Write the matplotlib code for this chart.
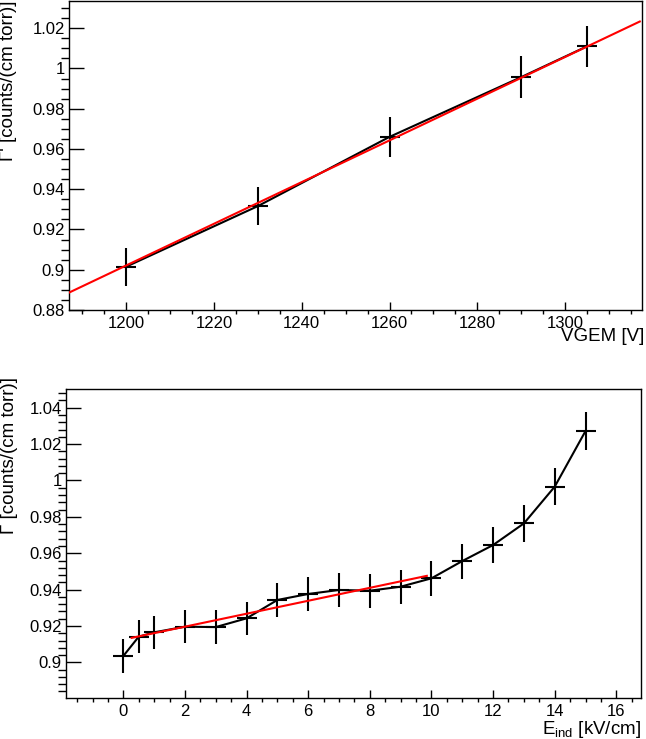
import matplotlib
matplotlib.use("Agg")
import matplotlib.pyplot as plt
import numpy as np
from matplotlib.ticker import MultipleLocator, FuncFormatter

plt.rcParams["font.family"] = ["Liberation Sans", "DejaVu Sans"]
plt.rcParams["mathtext.fontset"] = "custom"
plt.rcParams["mathtext.rm"] = "Liberation Sans"
plt.rcParams["mathtext.it"] = "Liberation Sans:italic"

# top panel: gain vs GEM voltage
vgem = [1200, 1230, 1260, 1290, 1305]
gamma_v = [0.9015, 0.9316, 0.9660, 0.9957, 1.0110]
gamma_v_err = [0.0095, 0.0094, 0.0099, 0.0104, 0.0103]
fit_v = [-0.3411, 0.001036]  # intercept, slope
fit_v_range = [1187, 1317]

# bottom panel: gain vs induction field
e_ind = [0, 0.5, 1, 2, 3, 4, 5, 6, 7, 8, 9, 10, 11, 12, 13, 14, 15]
gamma_e = [0.9035, 0.9141, 0.9165, 0.9196, 0.9194, 0.9242, 0.9343, 0.9376,
           0.9398, 0.9394, 0.9416, 0.9462, 0.9557, 0.9645, 0.9764, 0.9966, 1.0272]
gamma_e_err = [0.0093, 0.0092, 0.0090, 0.0092, 0.0092, 0.0092, 0.0093, 0.0094,
               0.0094, 0.0094, 0.0094, 0.0095, 0.0096, 0.0098, 0.0100, 0.0102, 0.0103]
fit_e = [0.9125, 0.00356]
fit_e_range = [0.27, 9.85]

FS = 12
LFS = 13.5
W, H = 646, 739


def style_axes(ax, xmaj, xmin, ymaj, ymin):
    ax.xaxis.set_major_locator(MultipleLocator(xmaj))
    ax.xaxis.set_minor_locator(MultipleLocator(xmin))
    ax.yaxis.set_major_locator(MultipleLocator(ymaj))
    ax.yaxis.set_minor_locator(MultipleLocator(ymin))
    fmt = FuncFormatter(lambda v, p: f"{v:.10g}" if abs(v) > 1e-9 else "0")
    ax.xaxis.set_major_formatter(fmt)
    ax.yaxis.set_major_formatter(FuncFormatter(lambda v, p: f"{round(v, 4):g}"))
    ax.tick_params(direction="in", top=False, right=False, labelsize=FS, width=1.0)
    ax.tick_params(axis="y", which="major", length=11, pad=3)
    ax.tick_params(axis="y", which="minor", length=5.5, width=1.0)
    ax.tick_params(axis="x", which="major", length=6, pad=4)
    ax.tick_params(axis="x", which="minor", length=3, width=1.0)
    for s in ax.spines.values():
        s.set_linewidth(1.0)


def draw(ax, x, y, yerr, fit, frange):
    ax.plot(x, y, color="black", lw=1.5, zorder=2)
    ax.errorbar(x, y, yerr=yerr, fmt="_", color="black", ms=14, mew=1.5,
                elinewidth=1.5, capsize=0, zorder=3)
    fx = np.array(frange)
    ax.plot(fx, fit[0] + fit[1] * fx, color="red", lw=1.5, zorder=4)


fig = plt.figure(figsize=(W / 100, H / 100), dpi=100)

ax1 = fig.add_axes([69 / W, 1 - 310 / H, (642 - 69) / W, (310 - 1) / H])
draw(ax1, vgem, gamma_v, gamma_v_err, fit_v, fit_v_range)
ax1.set_xlim(1187, 1317.5)
ax1.set_ylim(0.88, 1.0335)
style_axes(ax1, 20, 5, 0.02, 0.005)
ax1.text(1.005, -27 / 309, "VGEM [V]", transform=ax1.transAxes, ha="right",
         va="center", fontsize=LFS)
ax1.text(-60 / 573, 1.0, "Γ' [counts/(cm torr)]", transform=ax1.transAxes,
         rotation=90, ha="center", va="top", fontsize=LFS)

ax2 = fig.add_axes([66 / W, 1 - 698 / H, (641 - 66) / W, (698 - 389) / H])
draw(ax2, e_ind, gamma_e, gamma_e_err, fit_e, fit_e_range)
ax2.set_xlim(-1.86, 16.8)
ax2.set_ylim(0.8804, 1.0503)
style_axes(ax2, 2, 0.5, 0.02, 0.004)
ax2.text(1.0, -31 / 309, r"E$_{\mathrm{ind}}$ [kV/cm]", transform=ax2.transAxes,
         ha="right", va="center", fontsize=LFS)
ax2.text(-57 / 575, 1 + 12 / 309, "Γ [counts/(cm torr)]", transform=ax2.transAxes,
         rotation=90, ha="center", va="top", fontsize=LFS)

fig.savefig("out.png", dpi=100)
